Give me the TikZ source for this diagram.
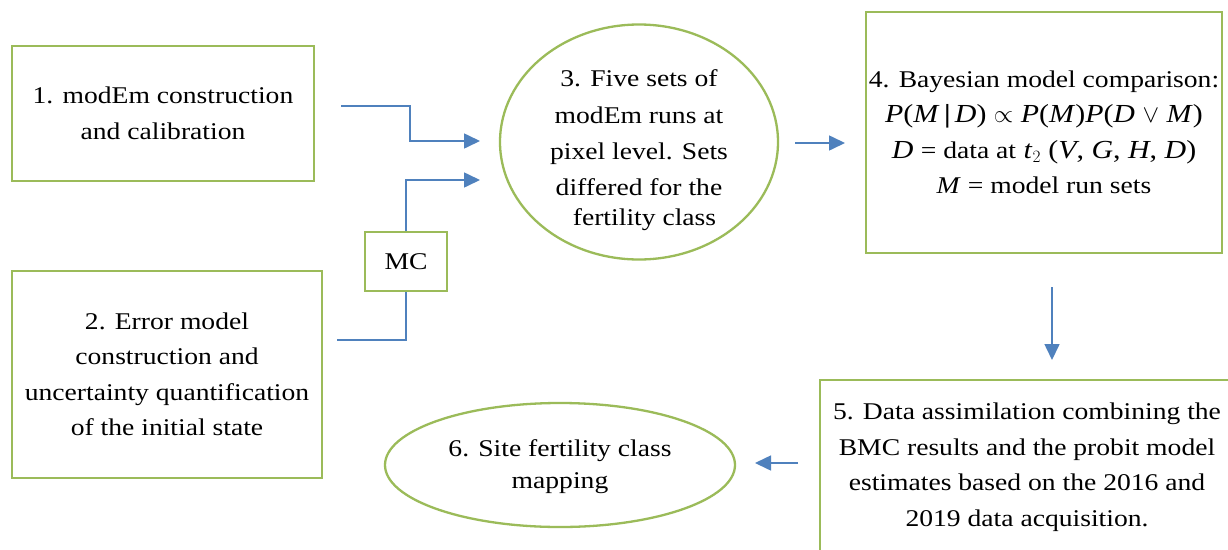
\documentclass[tikz,border=0pt]{standalone}
\usepackage{fontspec}
\setmainfont{Liberation Serif}[FakeStretch=1.15]
\usetikzlibrary{shapes.geometric,arrows.meta}
\definecolor{boxgreen}{HTML}{9BBB59}
\definecolor{arrblue}{HTML}{4F81BD}
\newcommand{\mv}[1]{\textit{#1}}
\tikzset{
  every node/.style={font=\fontsize{24}{35.5}\selectfont, text=black},
  gbox/.style={draw=boxgreen, line width=2.3pt, rectangle, inner sep=0pt, align=center},
  gell/.style={draw=boxgreen, line width=2.3pt, ellipse, inner sep=0pt, align=center},
  txt/.style={align=center, inner sep=0pt},
  arr/.style={draw=arrblue, line width=1.6pt, -{Triangle[length=16pt,width=15pt]}},
  conn/.style={draw=arrblue, line width=1.6pt},
}
\begin{document}
\begin{tikzpicture}[x=1pt,y=-1pt]
\useasboundingbox (0,0) rectangle (1228,549);
\clip (0,0) rectangle (1228,549);
\fill[white] (0,0) rectangle (1228,549);

\node[gbox, minimum width=302pt, minimum height=135pt] (b1) at (163,113.5)
  {1. modEm construction\\and calibration};
\node[gbox, minimum width=310pt, minimum height=207pt] (b2) at (167,374.5)
  {2. Error model\\construction and\\uncertainty quantification\\of the initial state};
\node[gbox, minimum width=82pt, minimum height=59pt] (mc) at (406,261.5) {MC};
\node[gell, minimum width=278pt, minimum height=235pt] (e3) at (639,142) {};
\node[txt] (t3) at (639,150.5)
  {3. Five sets of\\[1pt]modEm runs at\\[1pt]pixel level. Sets\\differed for the\\[-5pt]\hspace*{11pt}fertility class};
\node[gbox, minimum width=356pt, minimum height=241pt] (b4) at (1044,132.5)
  {4. Bayesian model comparison:\\
   {\fontsize{26}{35.5}\selectfont\mv{P}(\mv{M}\,{\bfseries|}\,\mv{D}) $\propto$ \mv{P}(\mv{M})\mv{P}(\mv{D} $\vee$ \mv{M})}\\
   {\fontsize{26}{35.5}\selectfont\mv{D} {\fontsize{24}{35.5}\selectfont = data at} \mv{t}$_{2}$ (\mv{V}, \mv{G}, \mv{H}, \mv{D})}\\
   \mv{M} = model run sets};
\node[gbox, minimum width=414pt, minimum height=174pt] (b5) at (1027,467)
  {5. Data assimilation combining the\\BMC results and the probit model\\estimates based on the 2016 and\\2019 data acquisition.};
\node[gell, minimum width=350pt, minimum height=124pt] (e6) at (560,465) {};
\node[txt] (t6) at (560,466.5) {6. Site fertility class\\[-3pt]mapping};

\coordinate (a1s) at (341,106);
\coordinate (a1e) at (480,141);
\coordinate (a2s) at (337,340);
\coordinate (a2e) at (480,180);
\coordinate (a3s) at (795,143);
\coordinate (a3e) at (845,143);
\coordinate (a4s) at (1052,287);
\coordinate (a4e) at (1052,360);
\coordinate (a5s) at (798,463);
\coordinate (a5e) at (755,463);

\draw[arr] (a1s) -- ++(69,0) |- (a1e);
\draw[conn] (a2s) -| (mc.south);
\draw[arr] (mc.north) |- (a2e);
\draw[arr] (a3s) -- (a3e);
\draw[arr] (a4s) -- (a4e);
\draw[arr] (a5s) -- (a5e);
\end{tikzpicture}
\end{document}
